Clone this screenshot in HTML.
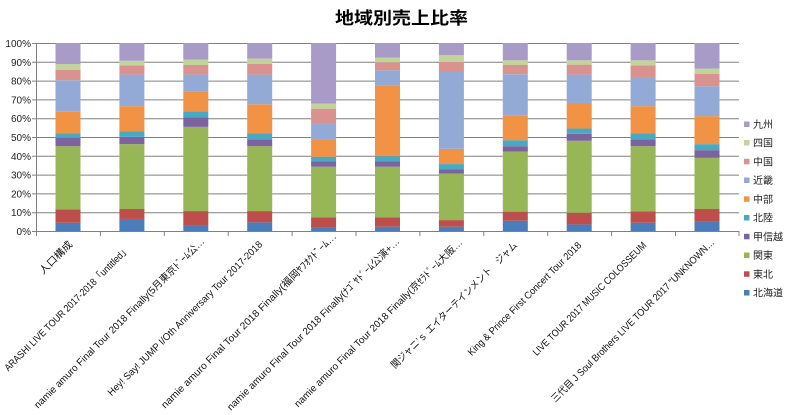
<!DOCTYPE html>
<html>
<head>
<meta charset="utf-8">
<style>
html,body{margin:0;padding:0;background:#fff;}
svg{display:block;}
.yl{font-family:"Liberation Sans",sans-serif;font-size:10px;fill:#222;}
.xl{font-family:"Liberation Sans","Noto Sans CJK JP",sans-serif;font-size:10px;fill:#111;}
.lg{font-family:"Liberation Sans","Noto Sans CJK JP",sans-serif;font-size:10px;fill:#222;}
</style>
</head>
<body>
<svg width="800" height="415" viewBox="0 0 800 415" xmlns="http://www.w3.org/2000/svg">
<rect width="800" height="415" fill="#fff"/>
<text x="401.5" y="24" text-anchor="middle" textLength="133" lengthAdjust="spacingAndGlyphs" style="font-family:'Liberation Sans','Noto Sans CJK JP',sans-serif;font-size:17px;font-weight:bold;fill:#000;">地域別売上比率</text>

<!-- gridlines -->
<g stroke="#808080" stroke-width="1">
<line x1="32" y1="43.5" x2="739" y2="43.5"/>
<line x1="32" y1="62.3" x2="739" y2="62.3"/>
<line x1="32" y1="81.1" x2="739" y2="81.1"/>
<line x1="32" y1="99.9" x2="739" y2="99.9"/>
<line x1="32" y1="118.7" x2="739" y2="118.7"/>
<line x1="32" y1="137.5" x2="739" y2="137.5"/>
<line x1="32" y1="156.3" x2="739" y2="156.3"/>
<line x1="32" y1="175.1" x2="739" y2="175.1"/>
<line x1="32" y1="193.9" x2="739" y2="193.9"/>
<line x1="32" y1="212.7" x2="739" y2="212.7"/>
<line x1="32" y1="231.5" x2="739" y2="231.5"/>
<line x1="36.5" y1="43" x2="36.5" y2="232"/>
</g>
<g stroke="#808080" stroke-width="1">
<line x1="36.5" y1="231" x2="36.5" y2="236"/>
<line x1="100.4" y1="231" x2="100.4" y2="236"/>
<line x1="164.3" y1="231" x2="164.3" y2="236"/>
<line x1="228.2" y1="231" x2="228.2" y2="236"/>
<line x1="292.1" y1="231" x2="292.1" y2="236"/>
<line x1="356" y1="231" x2="356" y2="236"/>
<line x1="419.9" y1="231" x2="419.9" y2="236"/>
<line x1="483.8" y1="231" x2="483.8" y2="236"/>
<line x1="547.7" y1="231" x2="547.7" y2="236"/>
<line x1="611.6" y1="231" x2="611.6" y2="236"/>
<line x1="675.5" y1="231" x2="675.5" y2="236"/>
<line x1="739" y1="231" x2="739" y2="236"/>
</g>

<!-- y labels -->
<g class="yl" text-anchor="end">
<text x="31" y="47">100%</text>
<text x="31" y="65.8">90%</text>
<text x="31" y="84.6">80%</text>
<text x="31" y="103.4">70%</text>
<text x="31" y="122.2">60%</text>
<text x="31" y="141">50%</text>
<text x="31" y="159.8">40%</text>
<text x="31" y="178.6">30%</text>
<text x="31" y="197.4">20%</text>
<text x="31" y="216.2">10%</text>
<text x="31" y="235">0%</text>
</g>

<defs>
<style>
.c0{fill:#4A7DBA}.c1{fill:#BE4E4B}.c2{fill:#97B756}.c3{fill:#7D62A0}.c4{fill:#48A9C3}
.c5{fill:#F29244}.c6{fill:#93AAD6}.c7{fill:#DA928F}.c8{fill:#C1D499}.c9{fill:#A99BC7}
</style>
</defs>

<g transform="translate(55.5,231) scale(1,-1.88)">
<rect class="c0" x="0" width="25" y="0" height="4.4"/>
<rect class="c1" x="0" width="25" y="4.4" height="7.1"/>
<rect class="c2" x="0" width="25" y="11.5" height="33.6"/>
<rect class="c3" x="0" width="25" y="45.1" height="4.5"/>
<rect class="c4" x="0" width="25" y="49.6" height="2.3"/>
<rect class="c5" x="0" width="25" y="51.9" height="11.5"/>
<rect class="c6" x="0" width="25" y="63.4" height="16.8"/>
<rect class="c7" x="0" width="25" y="80.2" height="5.6"/>
<rect class="c8" x="0" width="25" y="85.8" height="3"/>
<rect class="c9" x="0" width="25" y="88.8" height="11.2"/>
</g>
<g transform="translate(119.4,231) scale(1,-1.88)">
<rect class="c0" x="0" width="25" y="0" height="6.4"/>
<rect class="c1" x="0" width="25" y="6.4" height="5.3"/>
<rect class="c2" x="0" width="25" y="11.7" height="34.5"/>
<rect class="c3" x="0" width="25" y="46.2" height="3.9"/>
<rect class="c4" x="0" width="25" y="50.1" height="3"/>
<rect class="c5" x="0" width="25" y="53.1" height="13.3"/>
<rect class="c6" x="0" width="25" y="66.4" height="16.8"/>
<rect class="c7" x="0" width="25" y="83.2" height="4.9"/>
<rect class="c8" x="0" width="25" y="88.1" height="2.5"/>
<rect class="c9" x="0" width="25" y="90.6" height="9.4"/>
</g>
<g transform="translate(183.3,231) scale(1,-1.88)">
<rect class="c0" x="0" width="25" y="0" height="2.7"/>
<rect class="c1" x="0" width="25" y="2.7" height="7.9"/>
<rect class="c2" x="0" width="25" y="10.6" height="44.8"/>
<rect class="c3" x="0" width="25" y="55.4" height="5"/>
<rect class="c4" x="0" width="25" y="60.4" height="3.3"/>
<rect class="c5" x="0" width="25" y="63.7" height="10.6"/>
<rect class="c6" x="0" width="25" y="74.3" height="8.9"/>
<rect class="c7" x="0" width="25" y="83.2" height="5.1"/>
<rect class="c8" x="0" width="25" y="88.3" height="2.9"/>
<rect class="c9" x="0" width="25" y="91.2" height="8.8"/>
</g>
<g transform="translate(247.2,231) scale(1,-1.88)">
<rect class="c0" x="0" width="25" y="0" height="4.6"/>
<rect class="c1" x="0" width="25" y="4.6" height="6"/>
<rect class="c2" x="0" width="25" y="10.6" height="34.5"/>
<rect class="c3" x="0" width="25" y="45.1" height="3.7"/>
<rect class="c4" x="0" width="25" y="48.8" height="3.1"/>
<rect class="c5" x="0" width="25" y="51.9" height="15.5"/>
<rect class="c6" x="0" width="25" y="67.4" height="15.8"/>
<rect class="c7" x="0" width="25" y="83.2" height="5.8"/>
<rect class="c8" x="0" width="25" y="89" height="2.7"/>
<rect class="c9" x="0" width="25" y="91.7" height="8.3"/>
</g>
<g transform="translate(311.1,231) scale(1,-1.88)">
<rect class="c0" x="0" width="25" y="0" height="1.9"/>
<rect class="c1" x="0" width="25" y="1.9" height="5.4"/>
<rect class="c2" x="0" width="25" y="7.3" height="26.9"/>
<rect class="c3" x="0" width="25" y="34.2" height="2.8"/>
<rect class="c4" x="0" width="25" y="37" height="2.5"/>
<rect class="c5" x="0" width="25" y="39.5" height="9.2"/>
<rect class="c6" x="0" width="25" y="48.7" height="8.5"/>
<rect class="c7" x="0" width="25" y="57.2" height="7.9"/>
<rect class="c8" x="0" width="25" y="65.1" height="2.7"/>
<rect class="c9" x="0" width="25" y="67.8" height="32.2"/>
</g>
<g transform="translate(375,231) scale(1,-1.88)">
<rect class="c0" x="0" width="25" y="0" height="2.3"/>
<rect class="c1" x="0" width="25" y="2.3" height="5"/>
<rect class="c2" x="0" width="25" y="7.3" height="26.9"/>
<rect class="c3" x="0" width="25" y="34.2" height="2.8"/>
<rect class="c4" x="0" width="25" y="37" height="2.8"/>
<rect class="c5" x="0" width="25" y="39.8" height="37.7"/>
<rect class="c6" x="0" width="25" y="77.5" height="8"/>
<rect class="c7" x="0" width="25" y="85.5" height="4.2"/>
<rect class="c8" x="0" width="25" y="89.7" height="2.5"/>
<rect class="c9" x="0" width="25" y="92.2" height="7.8"/>
</g>
<g transform="translate(438.9,231) scale(1,-1.88)">
<rect class="c0" x="0" width="25" y="0" height="2.3"/>
<rect class="c1" x="0" width="25" y="2.3" height="3.5"/>
<rect class="c2" x="0" width="25" y="5.8" height="24.8"/>
<rect class="c3" x="0" width="25" y="30.6" height="2.1"/>
<rect class="c4" x="0" width="25" y="32.7" height="2.9"/>
<rect class="c5" x="0" width="25" y="35.6" height="8.1"/>
<rect class="c6" x="0" width="25" y="43.7" height="41.4"/>
<rect class="c7" x="0" width="25" y="85.1" height="4.8"/>
<rect class="c8" x="0" width="25" y="89.9" height="3.6"/>
<rect class="c9" x="0" width="25" y="93.5" height="6.5"/>
</g>
<g transform="translate(502.8,231) scale(1,-1.88)">
<rect class="c0" x="0" width="25" y="0" height="5.5"/>
<rect class="c1" x="0" width="25" y="5.5" height="4.8"/>
<rect class="c2" x="0" width="25" y="10.3" height="32"/>
<rect class="c3" x="0" width="25" y="42.3" height="2.8"/>
<rect class="c4" x="0" width="25" y="45.1" height="3.2"/>
<rect class="c5" x="0" width="25" y="48.3" height="13.3"/>
<rect class="c6" x="0" width="25" y="61.6" height="21.8"/>
<rect class="c7" x="0" width="25" y="83.4" height="4.9"/>
<rect class="c8" x="0" width="25" y="88.3" height="2.5"/>
<rect class="c9" x="0" width="25" y="90.8" height="9.2"/>
</g>
<g transform="translate(566.7,231) scale(1,-1.88)">
<rect class="c0" x="0" width="25" y="0" height="3.5"/>
<rect class="c1" x="0" width="25" y="3.5" height="6.2"/>
<rect class="c2" x="0" width="25" y="9.7" height="38.3"/>
<rect class="c3" x="0" width="25" y="48" height="3.7"/>
<rect class="c4" x="0" width="25" y="51.7" height="2.8"/>
<rect class="c5" x="0" width="25" y="54.5" height="13.6"/>
<rect class="c6" x="0" width="25" y="68.1" height="15.1"/>
<rect class="c7" x="0" width="25" y="83.2" height="5.3"/>
<rect class="c8" x="0" width="25" y="88.5" height="2.3"/>
<rect class="c9" x="0" width="25" y="90.8" height="9.2"/>
</g>
<g transform="translate(630.6,231) scale(1,-1.88)">
<rect class="c0" x="0" width="25" y="0" height="4.4"/>
<rect class="c1" x="0" width="25" y="4.4" height="6"/>
<rect class="c2" x="0" width="25" y="10.4" height="34.7"/>
<rect class="c3" x="0" width="25" y="45.1" height="3.7"/>
<rect class="c4" x="0" width="25" y="48.8" height="3.1"/>
<rect class="c5" x="0" width="25" y="51.9" height="14.5"/>
<rect class="c6" x="0" width="25" y="66.4" height="15"/>
<rect class="c7" x="0" width="25" y="81.4" height="6.7"/>
<rect class="c8" x="0" width="25" y="88.1" height="2.7"/>
<rect class="c9" x="0" width="25" y="90.8" height="9.2"/>
</g>
<g transform="translate(694.5,231) scale(1,-1.88)">
<rect class="c0" x="0" width="25" y="0" height="5.1"/>
<rect class="c1" x="0" width="25" y="5.1" height="6.6"/>
<rect class="c2" x="0" width="25" y="11.7" height="27.2"/>
<rect class="c3" x="0" width="25" y="38.9" height="4.1"/>
<rect class="c4" x="0" width="25" y="43" height="3.2"/>
<rect class="c5" x="0" width="25" y="46.2" height="14.9"/>
<rect class="c6" x="0" width="25" y="61.1" height="15.9"/>
<rect class="c7" x="0" width="25" y="77" height="6.5"/>
<rect class="c8" x="0" width="25" y="83.5" height="2.9"/>
<rect class="c9" x="0" width="25" y="86.4" height="13.6"/>
</g>

<!-- x labels -->
<g class="xl" text-anchor="end">
<text x="73" y="245" transform="rotate(-45 73 245)" textLength="42" lengthAdjust="spacingAndGlyphs">人口構成</text>
<text x="130" y="250" transform="rotate(-45 130 250)" textLength="172" lengthAdjust="spacingAndGlyphs">ARASHI LIVE TOUR 2017-2018「untitled」</text>
<text x="205" y="242" transform="rotate(-45 205 242)" textLength="236" lengthAdjust="spacingAndGlyphs">namie amuro Final Tour 2018 Finally(5月東京ﾄﾞｰﾑ公…</text>
<text x="263" y="245" transform="rotate(-45 263 245)" textLength="214" lengthAdjust="spacingAndGlyphs">Hey! Say! JUMP I/Oth Anniversary Tour 2017-2018</text>
<text x="337" y="237" transform="rotate(-45 337 237)" textLength="243" lengthAdjust="spacingAndGlyphs">namie amuro Final Tour 2018 Finally(福岡ﾔﾌｵｸﾄﾞｰﾑ…</text>
<text x="400" y="242" transform="rotate(-45 400 242)" textLength="239" lengthAdjust="spacingAndGlyphs">namie amuro Final Tour 2018 Finally(ﾅｺﾞﾔﾄﾞｰﾑ公演+…</text>
<text x="463" y="243" transform="rotate(-45 463 243)" textLength="233" lengthAdjust="spacingAndGlyphs">namie amuro Final Tour 2018 Finally(京ｾﾗﾄﾞｰﾑ大阪…</text>
<text x="518" y="246" transform="rotate(-45 518 246)" textLength="174" lengthAdjust="spacingAndGlyphs">関ジャニ’ｓ エイターテインメント　ジャム</text>
<text x="582" y="246" transform="rotate(-45 582 246)" textLength="156" lengthAdjust="spacingAndGlyphs">King &amp; Prince First Concert Tour 2018</text>
<text x="647" y="246" transform="rotate(-45 647 246)" textLength="156" lengthAdjust="spacingAndGlyphs">LIVE TOUR 2017 MUSIC COLOSSEUM</text>
<text x="715" y="243" transform="rotate(-45 715 243)" textLength="226" lengthAdjust="spacingAndGlyphs">三代目 J Soul Brothers LIVE TOUR 2017 "UNKNOWN…</text>
</g>

<!-- legend -->
<g>
<rect class="c9" x="744" y="121.5" width="5.5" height="5.5"/>
<rect class="c8" x="744" y="140" width="5.5" height="5.5"/>
<rect class="c7" x="744" y="158.8" width="5.5" height="5.5"/>
<rect class="c6" x="744" y="177.5" width="5.5" height="5.5"/>
<rect class="c5" x="744" y="196.3" width="5.5" height="5.5"/>
<rect class="c4" x="744" y="215" width="5.5" height="5.5"/>
<rect class="c3" x="744" y="233.8" width="5.5" height="5.5"/>
<rect class="c2" x="744" y="252.5" width="5.5" height="5.5"/>
<rect class="c1" x="744" y="271.3" width="5.5" height="5.5"/>
<rect class="c0" x="744" y="290" width="5.5" height="5.5"/>
</g>
<g class="lg">
<text x="753" y="128">九州</text>
<text x="753" y="146.7">四国</text>
<text x="753" y="165.5">中国</text>
<text x="753" y="184.2">近畿</text>
<text x="753" y="203">中部</text>
<text x="753" y="221.7">北陸</text>
<text x="753" y="240.5">甲信越</text>
<text x="753" y="259.2">関東</text>
<text x="753" y="278">東北</text>
<text x="753" y="296.7">北海道</text>
</g>
</svg>
</body>
</html>
